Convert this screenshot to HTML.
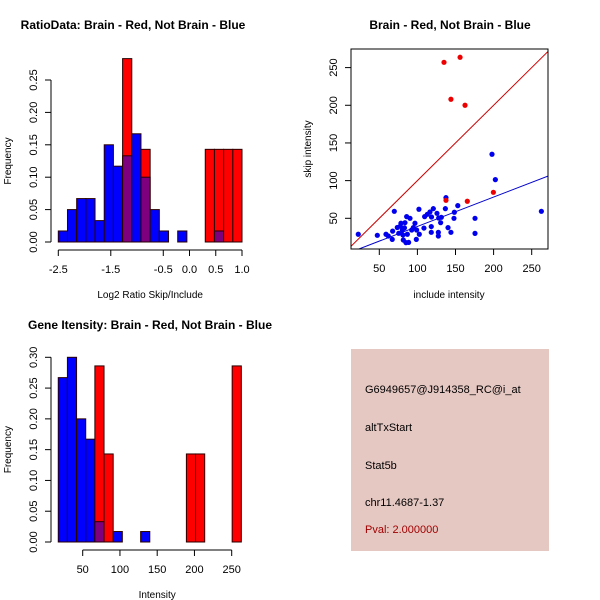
<!DOCTYPE html>
<html><head><meta charset="utf-8"><style>
html,body{margin:0;padding:0;background:#fff;}
svg{display:block;font-family:"Liberation Sans",sans-serif;}
</style></head><body>
<svg id="s" width="600" height="600" viewBox="0 0 600 600"></svg>
<script>
// ---- Panel 1 data: ratio histogram (20 bins from -2.5 to 1.0)
const ratioBinStart = -2.5;
const ratioBinWidth = 0.175;
const ratioBlue = [0.017,0.05,0.067,0.067,0.033,0.15,0.117,0.133,0.167,0.1,0.05,0.017,0,0.017,0,0,0,0.017,0,0];
const ratioRed  = [0,0,0,0,0,0,0,0.283,0,0.143,0,0,0,0,0,0,0.143,0.143,0.143,0.143];
const ratioXTicks = [-2.5,-1.5,-0.5,0.0,0.5,1.0];
const ratioXLabels = ["-2.5","-1.5","-0.5","0.0","0.5","1.0"];
const ratioYTicks = [0,0.05,0.10,0.15,0.20,0.25];
const ratioYLabels = ["0.00","0.05","0.10","0.15","0.20","0.25"];
// ---- Panel 2 data: scatter
const redX = [134.9,156,144,162.5,199.7,165.5,137.5];
const redY = [257,263.7,208,200,84.5,72.6,73.9];
const blueX = [22.4,47.4,69.7,58.8,61.8,67.5,67,73.6,78.4,80.2,81,83.7,85.9,86.8,90.3,88.5,81.5,94.7,96.8,99,102,98.6,102.5,108.6,113,116.5,118.2,118.2,120.9,125.7,127.9,127.5,127.5,130.5,131.4,136.7,137.5,140.2,144,148,148.5,153,175.6,175.6,197.9,202.3,262.7,77.5,83,75.5,85,92.5,118.5,109.5];
const blueY = [28.8,27.4,59.3,28.8,26.5,33,22,37.8,43.4,34.5,27.9,44.2,52.2,28.8,50,18,21.2,37.6,43.4,34.5,62,22,28.8,37,55.3,58.4,39,31.4,62.8,56.6,50.4,31.4,26.5,44.2,51.3,62.8,77.4,37.6,31.4,50,58,66.8,50,30,135,101.3,59.3,39.5,37.3,30.1,17.7,34.5,51.7,52.2];
const scXTicks = [50,100,150,200,250];
const scYTicks = [50,100,150,200,250];
const redLine = [12.9,12.9,271.4,271.4];
const blueLine = [20,8,271.4,106];
// ---- Panel 3 data: intensity histogram
const intBinStart = 17.2;
const intBinWidth = 12.285;
const intBlue = [0.267,0.3,0.2,0.167,0.033,0,0.017,0,0,0.017,0,0,0,0,0,0,0,0,0,0];
const intRed  = [0,0,0,0,0.286,0.143,0,0,0,0,0,0,0,0,0.143,0.143,0,0,0,0.286];
const intXTicks = [50,100,150,200,250];
const intYTicks = [0,0.05,0.10,0.15,0.20,0.25,0.30];
const intYLabels = ["0.00","0.05","0.10","0.15","0.20","0.25","0.30"];

const NS="http://www.w3.org/2000/svg";
const svg=document.getElementById('s');
function mk(tag,attrs,parent,text){const e=document.createElementNS(NS,tag);for(const k in attrs)e.setAttribute(k,attrs[k]);if(text!==undefined)e.textContent=text;(parent||svg).appendChild(e);return e;}
function grp(name){const g=mk('g',{});return g;}
function txt(g,x,y,s,opts,name){const t=mk('text',Object.assign({x:x,y:y,'font-size':11,fill:'#000','text-anchor':'middle'},opts||{}),g,s);return t;}

function histogram(name,title,xlab,binStart,binW,blue,red,xsc,ysc,xT,xL,yT,yL,axY,axX,titleX,titleY){
  const g=grp(name);
  txt(g,titleX,titleY,title,{'font-weight':'bold','font-size':12},'chart-title');
  for(let i=0;i<blue.length;i++){
    const x0=xsc(binStart+i*binW),x1=xsc(binStart+(i+1)*binW);
    const b=blue[i],r=red[i];
    const hi=Math.max(b,r),lo=Math.min(b,r);
    if(hi>0){
      const rc=mk('rect',{x:x0,y:ysc(hi),width:x1-x0,height:ysc(0)-ysc(hi),fill:(b>=r?'#0000ff':'#ff0000'),stroke:'#2a0000','stroke-width':1},g);
      
      
    }
    if(lo>0){
      const pc=mk('rect',{x:x0,y:ysc(lo),width:x1-x0,height:ysc(0)-ysc(lo),fill:'#7f007f',stroke:'#2a0000','stroke-width':1},g);
      
      
    }
  }
  const ya=grp('y-axis');g.appendChild(ya);
  mk('line',{x1:axY,x2:axY,y1:ysc(yT[0]),y2:ysc(yT[yT.length-1]),stroke:'#000'},ya);
  yT.forEach((v,i)=>{mk('line',{x1:axY-6,x2:axY,y1:ysc(v),y2:ysc(v),stroke:'#000'},ya);
    txt(ya,0,0,yL[i],{transform:`translate(${axY-14},${ysc(v)}) rotate(-90)`},'y-tick-label');});
  txt(ya,0,0,'Frequency',{'font-size':10,transform:`translate(11,${(ysc(yT[0])+ysc(yT[yT.length-1]))/2}) rotate(-90)`},'y-axis-title');
  const xa=grp('x-axis');g.appendChild(xa);
  mk('line',{x1:xsc(xT[0]),x2:xsc(xT[xT.length-1]),y1:axX,y2:axX,stroke:'#000'},xa);
  xT.forEach((v,i)=>{mk('line',{x1:xsc(v),x2:xsc(v),y1:axX,y2:axX+6,stroke:'#000'},xa);
    txt(xa,xsc(v),axX+23,xL[i],{},'x-tick-label');});
  txt(xa,(xsc(xT[0])+xsc(xT[xT.length-1]))/2,axX+48,xlab,{'font-size':10},'x-axis-title');
}
const p1x=v=>58.3+(v+2.5)*(183.7/3.5);
const p1y=v=>242-v*(162/0.25);
histogram('ratio-histogram','RatioData: Brain - Red, Not Brain - Blue','Log2 Ratio Skip/Include',
  ratioBinStart,ratioBinWidth,ratioBlue,ratioRed,p1x,p1y,ratioXTicks,ratioXLabels,ratioYTicks,ratioYLabels,51,250,133,29);
const p3x=v=>82.7+(v-50)*0.745;
const p3y=v=>542-v*(184.7/0.30);
histogram('intensity-histogram','Gene Itensity: Brain - Red, Not Brain - Blue','Intensity',
  intBinStart,intBinWidth,intBlue,intRed,p3x,p3y,intXTicks,intXTicks.map(String),intYTicks,intYLabels,51,550,150,329);

(function(){
  const g=grp('scatter-plot');
  const sx=v=>379.3+(v-50)*0.762;
  const sy=v=>218.3-(v-50)*0.7535;
  txt(g,450,29,'Brain - Red, Not Brain - Blue',{'font-weight':'bold','font-size':12},'chart-title');
  const cp=mk('clipPath',{id:'c2'},g);mk('rect',{x:351,y:49,width:197,height:200},cp);
  const pl=mk('g',{'clip-path':'url(#c2)'},g);
  const l1=mk('line',{x1:sx(redLine[0]),y1:sy(redLine[1]),x2:sx(redLine[2]),y2:sy(redLine[3]),stroke:'#cc0000','stroke-width':1},pl);
  
  const l2=mk('line',{x1:sx(blueLine[0]),y1:sy(blueLine[1]),x2:sx(blueLine[2]),y2:sy(blueLine[3]),stroke:'#0000cc','stroke-width':1},pl);
  
  for(let i=0;i<blueX.length;i++){const c=mk('circle',{cx:sx(blueX[i]),cy:sy(blueY[i]),r:2.6,fill:'#0000ee'},pl);
    }
  for(let i=0;i<redX.length;i++){const c=mk('circle',{cx:sx(redX[i]),cy:sy(redY[i]),r:2.6,fill:'#ee0000'},pl);
    }
  const fr=mk('rect',{x:351,y:49,width:197,height:200,fill:'none',stroke:'#000'},g);
  
  scXTicks.forEach(v=>{mk('line',{x1:sx(v),x2:sx(v),y1:249,y2:255,stroke:'#000'},g);txt(g,sx(v),272,String(v),{},'x-tick-label');});
  scYTicks.forEach(v=>{mk('line',{x1:345,x2:351,y1:sy(v),y2:sy(v),stroke:'#000'},g);txt(g,0,0,String(v),{transform:`translate(337,${sy(v)}) rotate(-90)`},'y-tick-label');});
  txt(g,449,298,'include intensity',{'font-size':10},'x-axis-title');
  txt(g,0,0,'skip intensity',{'font-size':10,transform:'translate(311,149) rotate(-90)'},'y-axis-title');
})();
</script>
<div style="position:absolute;left:351px;top:349px;width:198px;height:202px;background:#e6c8c2;font-family:'Liberation Sans',sans-serif;font-size:11px;">
  <div style="position:absolute;left:14px;top:35px;">G6949657@J914358_RC@i_at</div>
  <div style="position:absolute;left:14px;top:73px;">altTxStart</div>
  <div style="position:absolute;left:14px;top:111px;">Stat5b</div>
  <div style="position:absolute;left:14px;top:148px;">chr11.4687-1.37</div>
  <div style="position:absolute;left:14px;top:175px;color:#a00000;">Pval: 2.000000</div>
</div>
</body></html>
